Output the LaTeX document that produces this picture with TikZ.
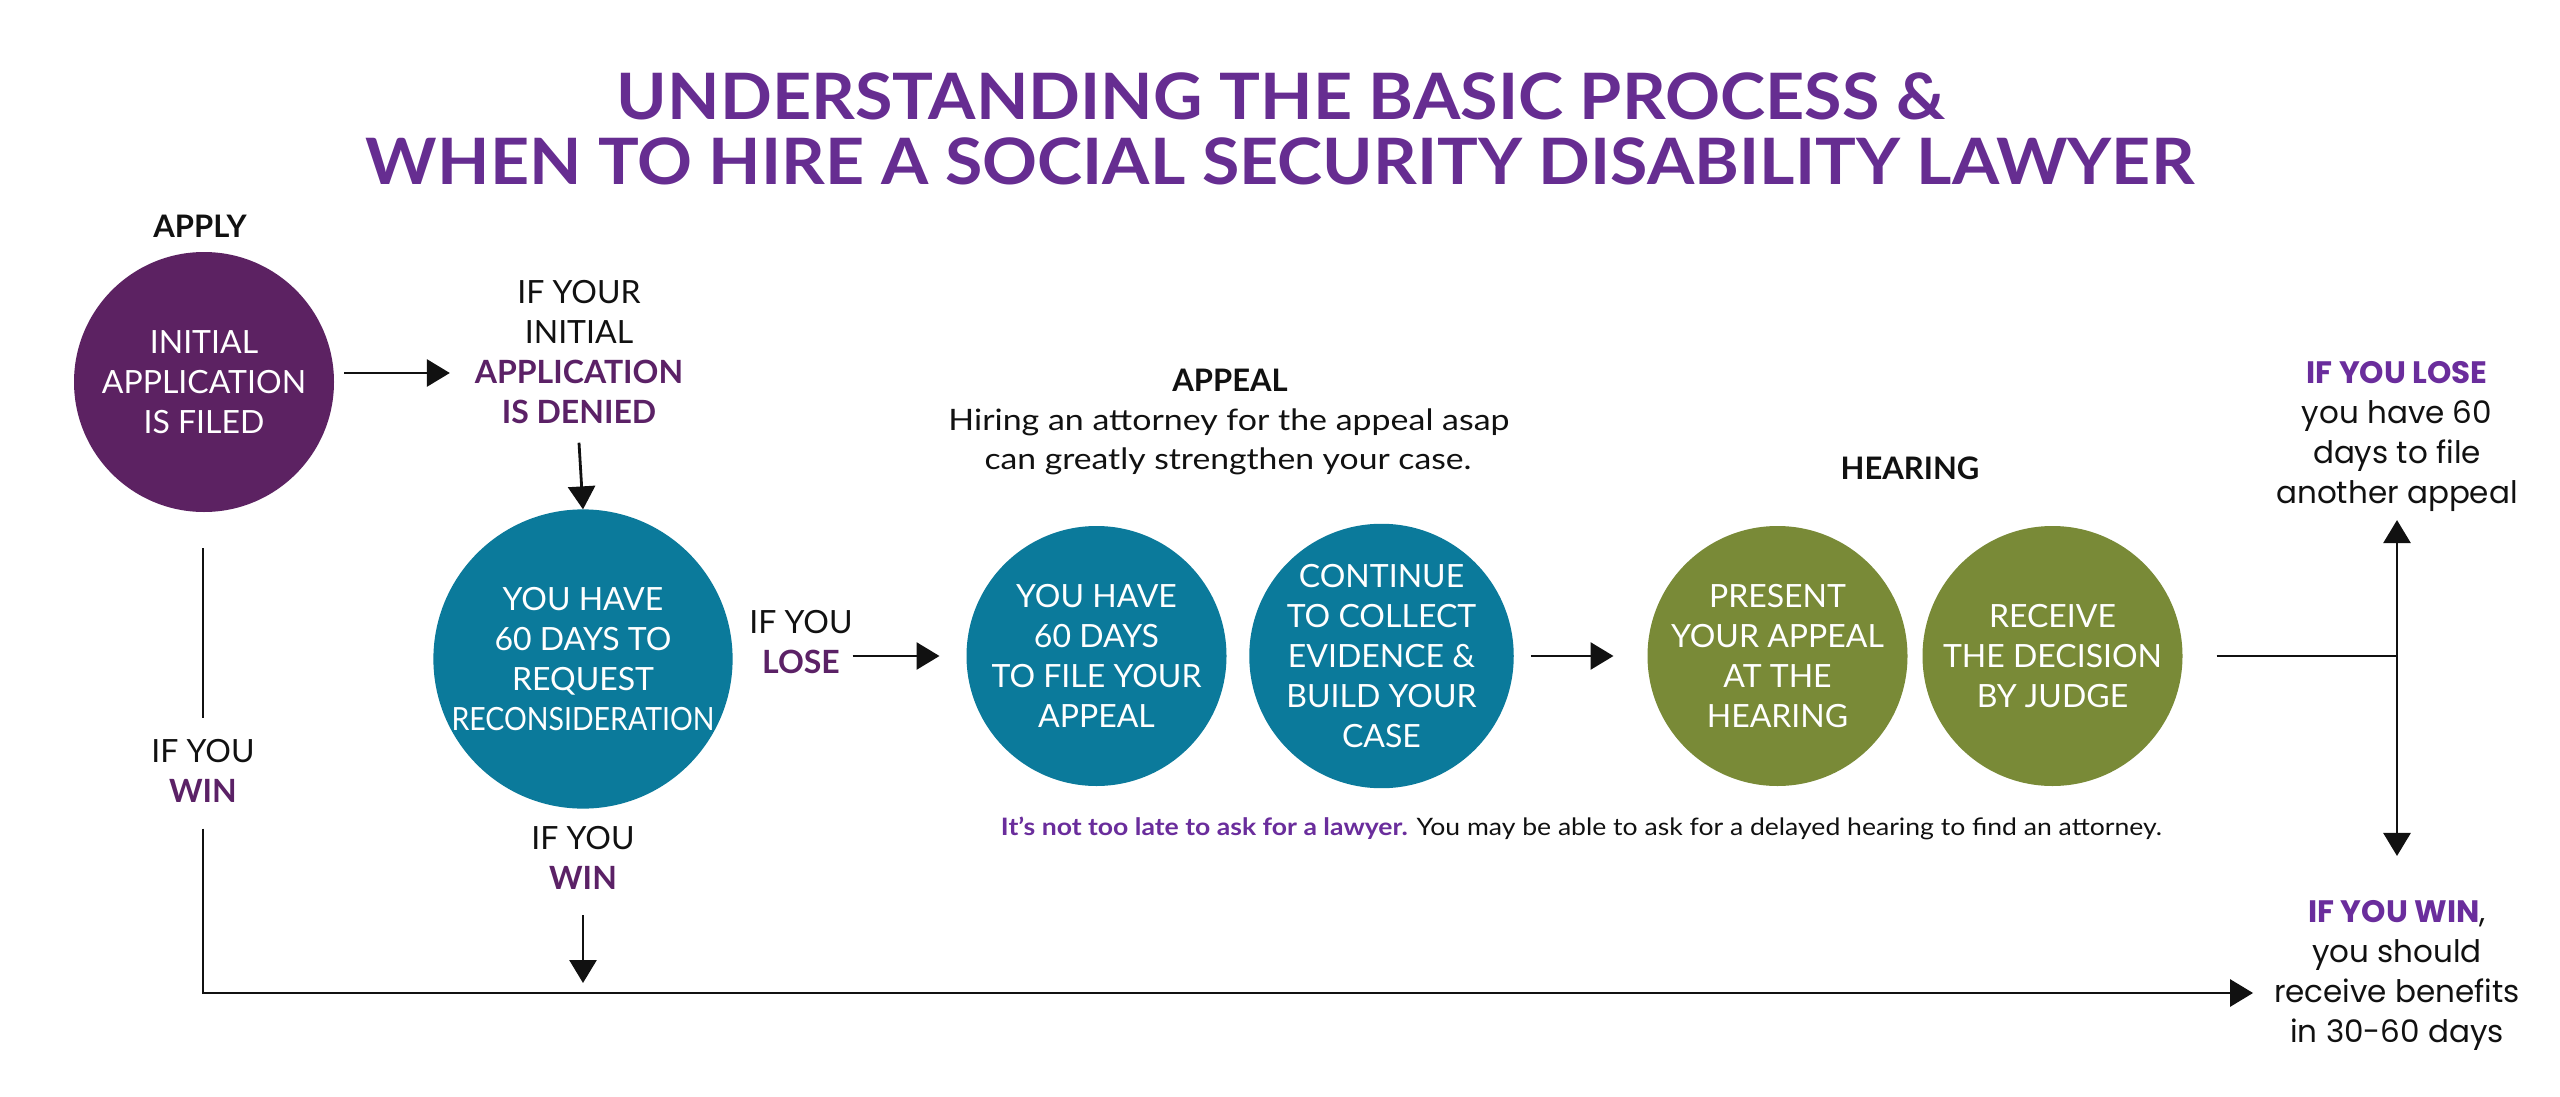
\documentclass[tikz,border=0pt]{standalone}
\usepackage{fontspec}
\setmainfont{Lato}
\newfontfamily\popfont{Poppins}
\usetikzlibrary{arrows.meta,calc}
\definecolor{titlepurple}{HTML}{662D91}
\definecolor{darkpurple}{HTML}{5B2166}
\definecolor{circpurple}{HTML}{5C2262}
\definecolor{brightpurple}{HTML}{6A2D9C}
\definecolor{ssteal}{HTML}{0B7A9B}
\definecolor{ssgreen}{HTML}{798A37}
\definecolor{inkblack}{HTML}{111111}
\newcommand\fitw[2]{\resizebox{#1}{\height}{#2}}
\begin{document}
\begin{tikzpicture}[x=1pt,y=-1pt,
  every node/.style={inner sep=0pt, outer sep=0pt, text=inkblack},
  circ/.style={circle, minimum size=260pt, text=white, align=center, font=\fontsize{32}{40}\selectfont},
  lbl/.style={align=center, font=\fontsize{32}{40}\selectfont},
  head/.style={anchor=base, font=\bfseries\fontsize{31}{31}\selectfont},
  ttl/.style={anchor=base, text=titlepurple, font=\bfseries\fontsize{64}{64}\selectfont},
  rtxt/.style={align=center, font=\popfont\fontsize{31}{40}\selectfont},
  conn/.style={line width=2.8pt, draw=inkblack},
  arr/.style={conn, -{Triangle[length=23pt,width=27pt]}},
]
\fill[white] (0,0) rectangle (2560,1097);
\useasboundingbox (0,0) rectangle (2560,1097);

% title
\node[ttl] (t1) at (1281,120) {\fitw{1328pt}{UNDERSTANDING THE BASIC PROCESS \&}};
\node[ttl] (t2) at (1280,184) {\fitw{1828pt}{WHEN TO HIRE A SOCIAL SECURITY DISABILITY LAWYER}};

% apply
\node[head] (apply) at (200,237) {APPLY};
\node[circ, fill=circpurple] (c1) at (204,382) {INITIAL\\APPLICATION\\IS FILED};
\node[lbl] (denied) at (579,352) {IF YOUR\\INITIAL\\\textcolor{darkpurple}{\bfseries APPLICATION}\\\textcolor{darkpurple}{\bfseries IS DENIED}};
\node[circ, minimum size=294pt, fill=ssteal] (tc1) at (583,659) {YOU HAVE\\60 DAYS TO\\REQUEST\\\scalebox{0.89}[1]{RECONSIDERATION}};
\node[lbl] (lwin) at (203,771) {IF YOU\\\textcolor{darkpurple}{\bfseries WIN}};
\node[lbl] (twin) at (583,857.5) {IF YOU\\\textcolor{darkpurple}{\bfseries WIN}};
\node[lbl] (lose) at (801,642) {IF YOU\\\textcolor{darkpurple}{\bfseries LOSE}};

% appeal
\node[head] (appeal) at (1230,391) {APPEAL};
\node[anchor=base, font=\fontsize{29.5}{40}\selectfont] (hire1) at (1229,430) {\fitw{561pt}{Hiring an attorney for the appeal asap}};
\node[anchor=base, font=\fontsize{29.5}{40}\selectfont] (hire2) at (1228,469) {\fitw{487pt}{can greatly strengthen your case.}};
\node[circ, fill=ssteal] (a1) at (1096.5,656) {YOU HAVE\\60 DAYS\\TO FILE YOUR\\APPEAL};
\node[circ, fill=ssteal] (a2) at (1381.5,656) {CONTINUE\\TO COLLECT\\EVIDENCE \&\\BUILD YOUR\\CASE};

% hearing
\node[head] (hearing) at (1910,479) {HEARING};
\node[circ, fill=ssgreen] (g1) at (1777.5,656) {PRESENT\\YOUR APPEAL\\AT THE\\HEARING};
\node[circ, fill=ssgreen] (g2) at (2052.5,656) {RECEIVE\\THE DECISION\\BY JUDGE};

\node[anchor=base, font=\fontsize{24}{28}\selectfont] (note) at (1581.5,835) {\fitw{1161pt}{\textcolor{brightpurple}{\bfseries It’s not too late to ask for a lawyer.} You may be able to ask for a delayed hearing to find an attorney.}};

% right outcomes
\node[rtxt] (loseR) at (2397,436) {\textcolor{brightpurple}{\bfseries IF YOU LOSE}\\you have 60\\days to file\\another appeal};
\node[rtxt] (winR) at (2397,975) {\textcolor{brightpurple}{\bfseries IF YOU WIN},\\you should\\receive benefits\\in 30-60 days};

% connectors
\draw[arr] ([shift={(10,-9)}]c1.east) -- ([shift={(-25,21)}]denied.west);
\draw[arr] ([yshift=-19pt]denied.south) -- (tc1.north);
\draw[arr] (lose.east |- a1.west) -- ([xshift=-27pt]a1.west);
\draw[arr] ([xshift=17pt]a2.east) -- ([xshift=-34pt]g1.west);
\draw[conn] ([yshift=-36pt]lwin.north |- c1.south) -- ([yshift=21pt]lwin.north);
\coordinate (wintip) at ([shift={(-21,18)}]winR.west);
\draw[arr] ([yshift=-26pt]lwin.south) |- (wintip);
\draw[arr] ([yshift=-26pt]twin.south) -- ($(twin.south |- wintip)+(0,-10)$);
\coordinate (junc) at (loseR.south |- g2.east);
\draw[conn] ([xshift=34pt]g2.east) -- (junc);
\draw[arr] (junc) -- ([yshift=-9pt]loseR.south);
\draw[arr] (junc) -- ([yshift=44pt]winR.north);
\end{tikzpicture}
\end{document}
